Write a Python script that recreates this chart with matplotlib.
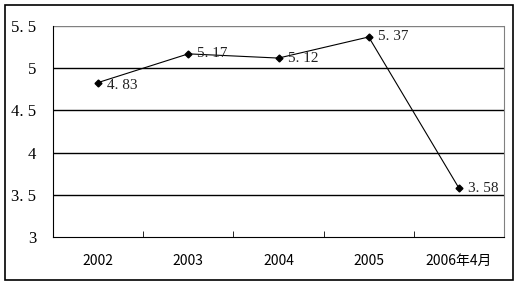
import matplotlib
matplotlib.use("Agg")
import matplotlib.pyplot as plt
from matplotlib.patches import Rectangle

plt.rcParams['font.family'] = ['Liberation Serif', 'Noto Sans CJK SC', 'DejaVu Sans']

categories = ["2002", "2003", "2004", "2005", "2006年4月"]
values = [4.83, 5.17, 5.12, 5.37, 3.58]
value_labels = ["4. 83", "5. 17", "5. 12", "5. 37", "3. 58"]
yticks = [3, 3.5, 4, 4.5, 5, 5.5]
ytick_labels = ["3", "3. 5", "4", "4. 5", "5", "5. 5"]

fig = plt.figure(figsize=(5.2, 2.86), dpi=100)
fig.patches.append(Rectangle((5/520, 1-280/286), 508/520, 275/286, transform=fig.transFigure,
                             fill=False, edgecolor='black', linewidth=1.2))
ax = fig.add_axes([53/520, 1-237/286, 451/520, 211/286])

x = list(range(len(categories)))
ax.plot(x, values, color='black', linewidth=0.8, marker='D', markersize=3.5, zorder=3)
for xi, v, lab in zip(x, values, value_labels):
    ax.text(xi + 0.1, v - (0.03 if xi == 0 else 0), lab, fontsize=11,
            ha='left', va='center',
            color='#222222', family=['Liberation Serif'])

ax.set_xlim(-0.5, 4.5)
ax.set_ylim(3, 5.5)
for y in [3.5, 4, 4.5, 5]:
    ax.axhline(y, color='black', linewidth=1.0, zorder=1)
ax.axhline(5.5, color='#808080', linewidth=1.0, zorder=1)
ax.set_yticks(yticks)
ax.set_yticklabels(ytick_labels, fontsize=12)
ax.set_xticks(x)
ax.set_xticklabels(categories, fontsize=10, family=['Noto Sans CJK SC'])
ax.set_xticks([0.5, 1.5, 2.5, 3.5], minor=True)
ax.tick_params(axis='x', which='major', length=0, pad=12)
ax.tick_params(axis='x', which='minor', length=4, direction='in', color='black')
ax.tick_params(axis='y', length=0, pad=12)
ax.spines['top'].set_visible(False)
ax.spines['right'].set_color('#808080')
ax.spines['left'].set_color('black')
ax.spines['bottom'].set_color('black')

fig.savefig("out.png", dpi=100)
